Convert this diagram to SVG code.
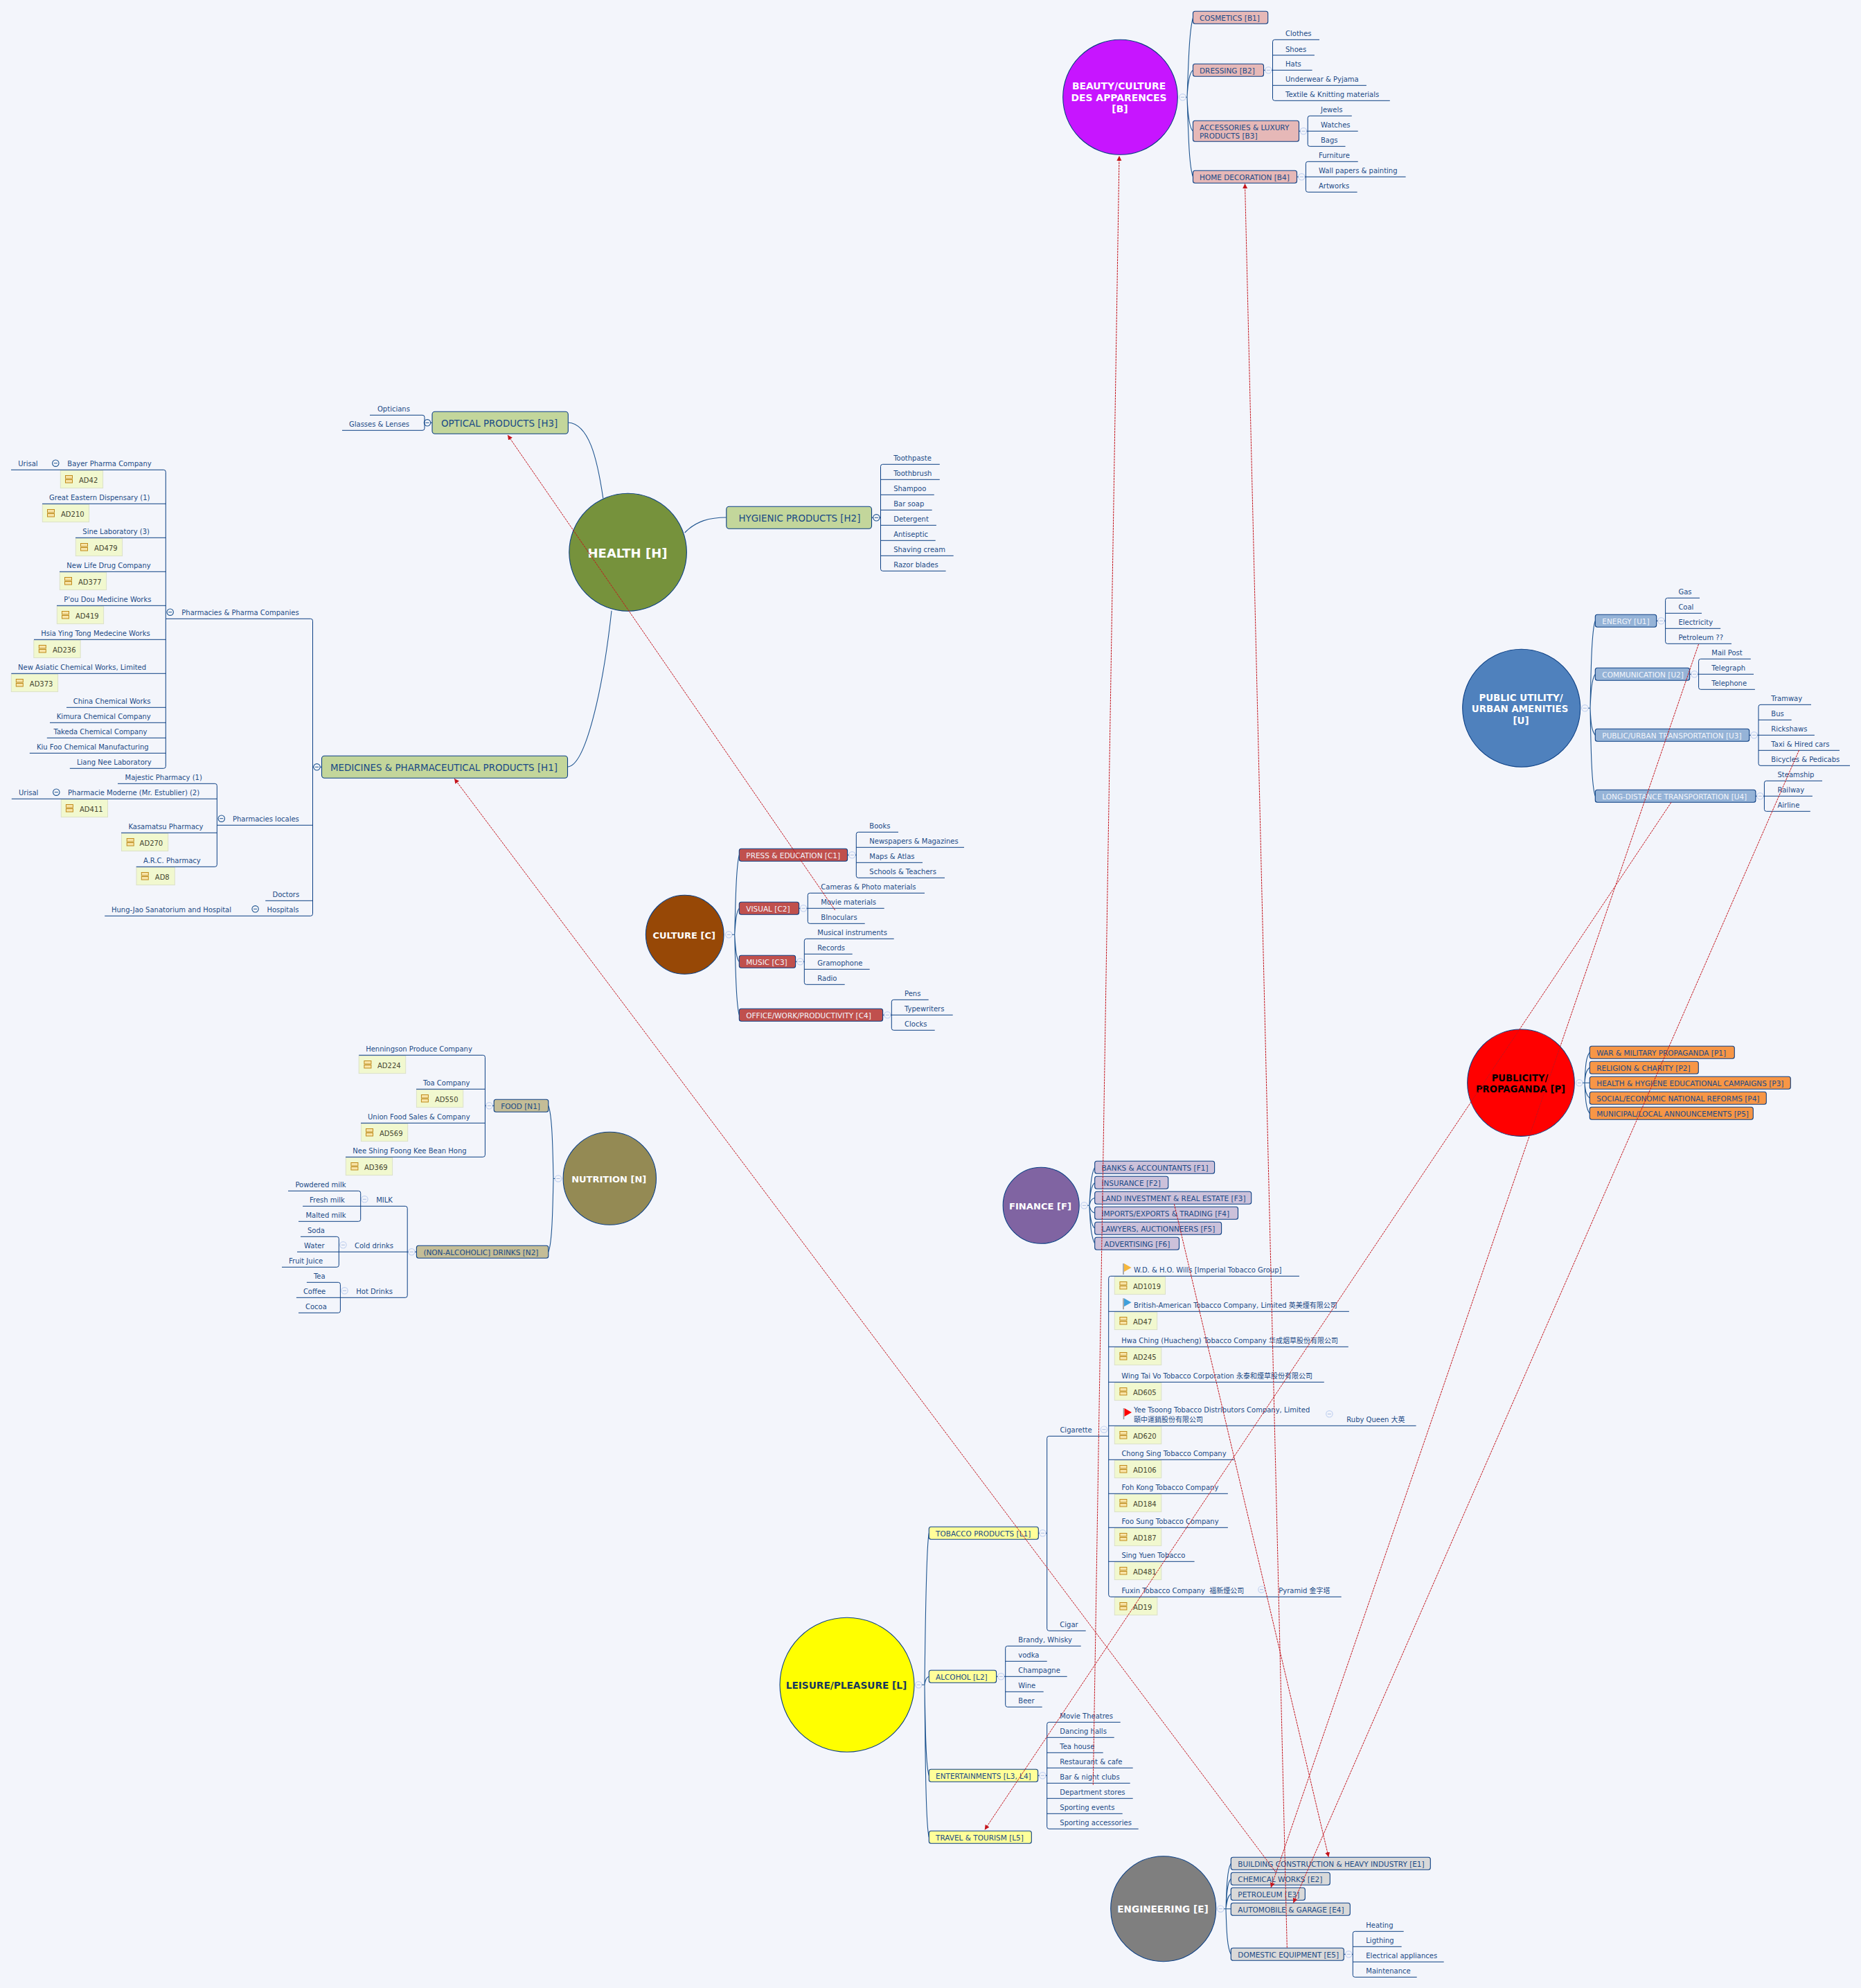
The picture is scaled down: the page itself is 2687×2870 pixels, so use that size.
<svg xmlns="http://www.w3.org/2000/svg" width="2687" height="2870" viewBox="0 0 2687 2870">
<style>
text{font-family:"DejaVu Sans","Noto Sans CJK SC",sans-serif}
.t{font-size:10px;fill:#1a4a86}
.x{font-size:10.5px;fill:#1a4a86}
.w{font-size:10.5px;fill:#f3f5fb}
.h{font-size:13.4px;fill:#1a4a86}
.a{font-size:10px;fill:#45452f}
.c{font-weight:bold;font-size:13.4px;fill:#fff;text-anchor:middle}
.o{stroke:#0b3f84;stroke-width:1.1}
.b{stroke:#0b3f84;stroke-width:1.1}
.n{fill:#f1f8cf;stroke:#dbe0c8;stroke-width:1}
.l{fill:none;stroke:#0b3f84;stroke-width:1}
.s{fill:none;stroke:#1f5590;stroke-width:1.1}
.r{fill:none;stroke:#c4141c;stroke-width:1;stroke-dasharray:3 1;marker-end:url(#ah)}
</style>
<defs>
<marker id="ah" markerUnits="userSpaceOnUse" markerWidth="8" markerHeight="8" refX="7" refY="3.5" orient="auto"><path d="M0 0L7 3.5L0 7z" fill="#c4141c"/></marker>
<g id="m"><circle r="4.7" fill="#f3f5fb" stroke="#c3d2f0" stroke-width="1.2"/><path d="M-2.5 0H2.5" stroke="#a9bce0" stroke-width="1"/></g>
<g id="d"><circle r="4.7" fill="#f3f5fb" stroke="#1f5590" stroke-width="1.1"/><path d="M-2.5 0H2.5" stroke="#1f5590" stroke-width="1"/></g>
<g id="i"><rect x=".5" y=".5" width="10" height="4.5" fill="#f8e4a8" stroke="#c08a1a"/><rect x=".5" y="6.5" width="10" height="4.5" fill="#f8e4a8" stroke="#c08a1a"/></g>
</defs>
<rect width="2687" height="2870" fill="#f3f5fb"/>

<g id="B"><ellipse class="o" cx="1617.5" cy="140.3" rx="82.8" ry="83" fill="#c715ff"/><text class="c" x="1615.5" y="129" style="font-size:13.9px">BEAUTY/CULTURE</text><text class="c" x="1615.5" y="146" style="font-size:13.9px">DES APPARENCES</text><text class="c" x="1617" y="162" style="font-size:13.9px">[B]</text><use href="#m" x="1707.5" y="140.3"/></g>
<g id="B1"><rect class="b" x="1722.5" y="16.3" width="108.2" height="18" rx="3" fill="#e6b8b7"/><text class="x" x="1732" y="30">COSMETICS [B1]</text></g>
<g id="B2"><rect class="b" x="1722.5" y="92.3" width="102" height="18" rx="3" fill="#e6b8b7"/><text class="x" x="1732" y="106">DRESSING [B2]</text><use href="#m" x="1831.4" y="101.3"/></g>
<g id="B3"><rect class="b" x="1722.5" y="174.3" width="153" height="30" rx="3" fill="#e6b8b7"/><text class="x" x="1732" y="188">ACCESSORIES &amp; LUXURY</text><text class="x" x="1732" y="200">PRODUCTS [B3]</text><use href="#m" x="1882" y="189.3"/></g>
<g id="B4"><rect class="b" x="1722.5" y="246.3" width="150" height="18" rx="3" fill="#e6b8b7"/><text class="x" x="1732" y="260">HOME DECORATION [B4]</text><use href="#m" x="1879.3" y="255.3"/></g>
<g id="B2a"><text class="t" x="1856" y="52.3">Clothes</text></g>
<g id="B2b"><text class="t" x="1856" y="74.7">Shoes</text></g>
<g id="B2c"><text class="t" x="1856" y="96.3">Hats</text></g>
<g id="B2d"><text class="t" x="1856" y="118.3">Underwear &amp; Pyjama</text></g>
<g id="B2e"><text class="t" x="1856" y="140.3">Textile &amp; Knitting materials</text></g>
<g id="B3a"><text class="t" x="1907" y="162.3">Jewels</text></g>
<g id="B3b"><text class="t" x="1907" y="184.3">Watches</text></g>
<g id="B3c"><text class="t" x="1907" y="206.3">Bags</text></g>
<g id="B4a"><text class="t" x="1904" y="228.3">Furniture</text></g>
<g id="B4b"><text class="t" x="1904" y="250.3">Wall papers &amp; painting</text></g>
<g id="B4c"><text class="t" x="1904" y="272.3">Artworks</text></g>

<g id="H"><ellipse class="o" cx="906.6" cy="797.3" rx="84.8" ry="85" fill="#76923c"/><text class="c" x="906" y="805" style="font-size:18px">HEALTH [H]</text></g>
<g id="H3"><rect class="b" x="624" y="594.3" width="196.3" height="32" rx="4" fill="#c3d69b"/><text class="h" x="637" y="616">OPTICAL PRODUCTS [H3]</text><use href="#d" x="617" y="610.3"/></g>
<g id="H3a"><text class="t" x="545" y="594.3">Opticians</text></g>
<g id="H3b"><text class="t" x="504" y="616.3">Glasses &amp; Lenses</text></g>
<g id="H2"><rect class="b" x="1048.8" y="731.3" width="209.7" height="32" rx="4" fill="#c3d69b"/><text class="h" x="1066.4" y="753.3">HYGIENIC PRODUCTS [H2]</text><use href="#d" x="1265.4" y="747.3"/></g>
<g id="H2a"><text class="t" x="1290.2" y="665.3">Toothpaste</text></g>
<g id="H2b"><text class="t" x="1290.2" y="687.3">Toothbrush</text></g>
<g id="H2c"><text class="t" x="1290.2" y="709.3">Shampoo</text></g>
<g id="H2d"><text class="t" x="1290.2" y="731.3">Bar soap</text></g>
<g id="H2e"><text class="t" x="1290.2" y="753.3">Detergent</text></g>
<g id="H2f"><text class="t" x="1290.2" y="775.3">Antiseptic</text></g>
<g id="H2g"><text class="t" x="1290.2" y="797.3">Shaving cream</text></g>
<g id="H2h"><text class="t" x="1290.2" y="819.3">Razor blades</text></g>
<g id="H1"><rect class="b" x="464.5" y="1091.3" width="355" height="32" rx="4" fill="#c3d69b"/><text class="h" x="477" y="1113">MEDICINES &amp; PHARMACEUTICAL PRODUCTS [H1]</text><use href="#d" x="457.5" y="1107.3"/></g>

<g id="PC"><text class="t" x="262.3" y="888.3">Pharmacies &amp; Pharma Companies</text><use href="#d" x="245.7" y="883.7"/></g>
<g id="PC1"><text class="t" x="97.3" y="673.3">Bayer Pharma Company</text><use href="#d" x="80.3" y="668.7"/></g>
<g id="PC1u"><text class="t" x="26.3" y="673.3">Urisal</text></g>
<g id="ad42"><rect class="n" x="87.3" y="679.3" width="61.3" height="25.3"/><use href="#i" x="94" y="686"/><text class="a" x="114" y="697">AD42</text></g>
<g id="PC2"><text class="t" x="71" y="722.3">Great Eastern Dispensary (1)</text></g>
<g id="ad210"><rect class="n" x="61.3" y="728.3" width="67.3" height="25.3"/><use href="#i" x="68" y="735"/><text class="a" x="88" y="746">AD210</text></g>
<g id="PC3"><text class="t" x="119.3" y="771.3">Sine Laboratory (3)</text></g>
<g id="ad479"><rect class="n" x="109.3" y="777.3" width="67.3" height="25.3"/><use href="#i" x="116" y="784"/><text class="a" x="136" y="795">AD479</text></g>
<g id="PC4"><text class="t" x="96.3" y="820.3">New Life Drug Company</text></g>
<g id="ad377"><rect class="n" x="86.3" y="826.3" width="67.3" height="25.3"/><use href="#i" x="93" y="833"/><text class="a" x="113" y="844">AD377</text></g>
<g id="PC5"><text class="t" x="92.3" y="869.3">P'ou Dou Medicine Works</text></g>
<g id="ad419"><rect class="n" x="82.3" y="875.3" width="67.3" height="25.3"/><use href="#i" x="89" y="882"/><text class="a" x="109" y="893">AD419</text></g>
<g id="PC6"><text class="t" x="59.3" y="918.3">Hsia Ying Tong Medecine Works</text></g>
<g id="ad236"><rect class="n" x="48.8" y="924.3" width="67.3" height="25.3"/><use href="#i" x="55.8" y="931"/><text class="a" x="75.9" y="942">AD236</text></g>
<g id="PC7"><text class="t" x="26" y="967.3">New Asiatic Chemical Works, Limited</text></g>
<g id="ad373"><rect class="n" x="16.3" y="973.3" width="67.3" height="25.3"/><use href="#i" x="22.8" y="980"/><text class="a" x="42.8" y="991">AD373</text></g>
<g id="PC8"><text class="t" x="105.7" y="1016.3">China Chemical Works</text></g>
<g id="PC9"><text class="t" x="81.8" y="1038.3">Kimura Chemical Company</text></g>
<g id="PC10"><text class="t" x="77.5" y="1060.3">Takeda Chemical Company</text></g>
<g id="PC11"><text class="t" x="53" y="1082.3">Kiu Foo Chemical Manufacturing</text></g>
<g id="PC12"><text class="t" x="111" y="1104.3">Liang Nee Laboratory</text></g>
<g id="PL"><text class="t" x="336" y="1186.3">Pharmacies locales</text><use href="#d" x="319.8" y="1181.7"/></g>
<g id="PL1"><text class="t" x="180.5" y="1126.3">Majestic Pharmacy (1)</text></g>
<g id="PL2"><text class="t" x="98.1" y="1148.3">Pharmacie Moderne (Mr. Estublier) (2)</text><use href="#d" x="81.3" y="1143.7"/></g>
<g id="PL2u"><text class="t" x="27" y="1148.3">Urisal</text></g>
<g id="ad411"><rect class="n" x="88.3" y="1154.3" width="67.2" height="25.3"/><use href="#i" x="94.9" y="1161"/><text class="a" x="115" y="1172">AD411</text></g>
<g id="PL3"><text class="t" x="185.4" y="1197.3">Kasamatsu Pharmacy</text></g>
<g id="ad270"><rect class="n" x="175.5" y="1203.3" width="67.2" height="25.3"/><use href="#i" x="182.7" y="1210"/><text class="a" x="201.6" y="1221">AD270</text></g>
<g id="PL4"><text class="t" x="207" y="1246.3">A.R.C. Pharmacy</text></g>
<g id="ad8"><rect class="n" x="197" y="1252.3" width="55.3" height="25.3"/><use href="#i" x="203.8" y="1259"/><text class="a" x="223.8" y="1270">AD8</text></g>
<g id="DOC"><text class="t" x="393.5" y="1295.3">Doctors</text></g>
<g id="HOS"><text class="t" x="385.4" y="1317.3">Hospitals</text><use href="#d" x="368.6" y="1312.3"/></g>
<g id="HOSa"><text class="t" x="161" y="1317.3">Hung-Jao Sanatorium and Hospital</text></g>

<g id="C"><ellipse class="o" cx="988.7" cy="1349.3" rx="56.3" ry="57" fill="#974806"/><text class="c" x="987.7" y="1355" style="font-size:13px">CULTURE [C]</text><use href="#m" x="1052.3" y="1349.3"/></g>
<g id="C1"><rect class="b" x="1067.3" y="1225.3" width="156.3" height="18" rx="3" fill="#c0504d"/><text class="w" x="1077.3" y="1239">PRESS &amp; EDUCATION [C1]</text><use href="#m" x="1230.3" y="1234.3"/></g>
<g id="C2"><rect class="b" x="1067.3" y="1302.3" width="86.3" height="18" rx="3" fill="#c0504d"/><text class="w" x="1077.3" y="1316">VISUAL [C2]</text><use href="#m" x="1160" y="1311.3"/></g>
<g id="C3"><rect class="b" x="1067.3" y="1379.3" width="81.3" height="18" rx="3" fill="#c0504d"/><text class="w" x="1077.3" y="1393">MUSIC [C3]</text><use href="#m" x="1155.3" y="1388.3"/></g>
<g id="C4"><rect class="b" x="1067.3" y="1456.3" width="207.3" height="18" rx="3" fill="#c0504d"/><text class="w" x="1077.3" y="1470">OFFICE/WORK/PRODUCTIVITY [C4]</text><use href="#m" x="1281.3" y="1465.3"/></g>
<g id="C1a"><text class="t" x="1255.3" y="1196.3">Books</text></g>
<g id="C1b"><text class="t" x="1255.3" y="1218.3">Newspapers &amp; Magazines</text></g>
<g id="C1c"><text class="t" x="1255.3" y="1240.3">Maps &amp; Atlas</text></g>
<g id="C1d"><text class="t" x="1255.3" y="1262.3">Schools &amp; Teachers</text></g>
<g id="C2a"><text class="t" x="1185.3" y="1284.3">Cameras &amp; Photo materials</text></g>
<g id="C2b"><text class="t" x="1185.3" y="1306.3">Movie materials</text></g>
<g id="C2c"><text class="t" x="1185.3" y="1328.3">BInoculars</text></g>
<g id="C3a"><text class="t" x="1180.3" y="1350.3">Musical instruments</text></g>
<g id="C3b"><text class="t" x="1180.3" y="1372.3">Records</text></g>
<g id="C3c"><text class="t" x="1180.3" y="1394.3">Gramophone</text></g>
<g id="C3d"><text class="t" x="1180.3" y="1416.3">Radio</text></g>
<g id="C4a"><text class="t" x="1306" y="1438.3">Pens</text></g>
<g id="C4b"><text class="t" x="1306" y="1460.3">Typewriters</text></g>
<g id="C4c"><text class="t" x="1306" y="1482.3">Clocks</text></g>

<g id="N"><ellipse class="o" cx="880.3" cy="1701.3" rx="67.2" ry="67" fill="#948a54"/><text class="c" x="879.2" y="1707" style="font-size:13px">NUTRITION [N]</text><use href="#m" x="806" y="1701.5"/></g>
<g id="N1"><rect class="b" x="713.2" y="1587.3" width="78.6" height="18" rx="3" fill="#c4bd97"/><text class="x" x="723.2" y="1601">FOOD [N1]</text><use href="#m" x="706.4" y="1596.3"/></g>
<g id="N2"><rect class="b" x="601.4" y="1798.3" width="190.4" height="18" rx="3" fill="#c4bd97"/><text class="x" x="611.4" y="1812">(NON-ALCOHOLIC] DRINKS [N2]</text><use href="#m" x="594.3" y="1807.3"/></g>
<g id="N1a"><text class="t" x="528.2" y="1518.3">Henningson Produce Company</text></g>
<g id="ad224"><rect class="n" x="518.2" y="1524.3" width="67.5" height="25.3"/><use href="#i" x="525.4" y="1531"/><text class="a" x="545" y="1542">AD224</text></g>
<g id="N1b"><text class="t" x="611" y="1567.3">Toa Company</text></g>
<g id="ad550"><rect class="n" x="601.4" y="1573.3" width="67.3" height="25.3"/><use href="#i" x="607.9" y="1580"/><text class="a" x="627.9" y="1591">AD550</text></g>
<g id="N1c"><text class="t" x="531" y="1616.3">Union Food Sales &amp; Company</text></g>
<g id="ad569"><rect class="n" x="521.4" y="1622.3" width="67.3" height="25.3"/><use href="#i" x="528" y="1629"/><text class="a" x="547.9" y="1640">AD569</text></g>
<g id="N1d"><text class="t" x="509.3" y="1665.3">Nee Shing Foong Kee Bean Hong</text></g>
<g id="ad369"><rect class="n" x="499.3" y="1671.3" width="67.3" height="25.3"/><use href="#i" x="506.4" y="1678"/><text class="a" x="526" y="1689">AD369</text></g>
<g id="N2a"><text class="t" x="543.2" y="1736.3">MILK</text><use href="#m" x="526.4" y="1731.3"/></g>
<g id="N2a1"><text class="t" x="426.4" y="1714.3">Powdered milk</text></g>
<g id="N2a2"><text class="t" x="447" y="1736.3">Fresh milk</text></g>
<g id="N2a3"><text class="t" x="441.4" y="1758.3">Malted milk</text></g>
<g id="N2b"><text class="t" x="512" y="1802.3">Cold drinks</text><use href="#m" x="495.4" y="1797.3"/></g>
<g id="N2b1"><text class="t" x="444" y="1780.3">Soda</text></g>
<g id="N2b2"><text class="t" x="439" y="1802.3">Water</text></g>
<g id="N2b3"><text class="t" x="417" y="1824.3">Fruit Juice</text></g>
<g id="N2c"><text class="t" x="514.3" y="1868.3">Hot Drinks</text><use href="#m" x="497.5" y="1863.3"/></g>
<g id="N2c1"><text class="t" x="452.9" y="1846.3">Tea</text></g>
<g id="N2c2"><text class="t" x="437.9" y="1868.3">Coffee</text></g>
<g id="N2c3"><text class="t" x="441" y="1890.3">Cocoa</text></g>

<g id="U"><ellipse class="o" cx="2196.7" cy="1022.3" rx="85" ry="85" fill="#4f81bd"/><text class="c" x="2196" y="1012">PUBLIC UTILITY/</text><text class="c" x="2194.6" y="1028.3">URBAN AMENITIES</text><text class="c" x="2196" y="1044.7">[U]</text><use href="#m" x="2288.4" y="1022.3"/></g>
<g id="U1"><rect class="b" x="2303.3" y="887.3" width="88.4" height="18" rx="3" fill="#95b3d7"/><text class="w" x="2313.3" y="901">ENERGY [U1]</text><use href="#m" x="2398.5" y="896.3"/></g>
<g id="U2"><rect class="b" x="2303.3" y="964.3" width="136.3" height="18" rx="3" fill="#95b3d7"/><text class="w" x="2313.3" y="978">COMMUNICATION [U2]</text><use href="#m" x="2446.5" y="973.3"/></g>
<g id="U3"><rect class="b" x="2303.3" y="1052.3" width="222.4" height="18" rx="3" fill="#95b3d7"/><text class="w" x="2313.3" y="1066">PUBLIC/URBAN TRANSPORTATION [U3]</text><use href="#m" x="2532.6" y="1061.3"/></g>
<g id="U4"><rect class="b" x="2303.3" y="1140.3" width="231.6" height="18" rx="3" fill="#95b3d7"/><text class="w" x="2313.3" y="1154">LONG-DISTANCE TRANSPORTATION [U4]</text><use href="#m" x="2541.3" y="1149.3"/></g>
<g id="U1a"><text class="t" x="2423.4" y="858.3">Gas</text></g>
<g id="U1b"><text class="t" x="2423.4" y="880.3">Coal</text></g>
<g id="U1c"><text class="t" x="2423.4" y="902.3">Electricity</text></g>
<g id="U1d"><text class="t" x="2423.4" y="924.3">Petroleum ??</text></g>
<g id="U2a"><text class="t" x="2471.3" y="946.3">Mail Post</text></g>
<g id="U2b"><text class="t" x="2471.3" y="968.3">Telegraph</text></g>
<g id="U2c"><text class="t" x="2471.3" y="990.3">Telephone</text></g>
<g id="U3a"><text class="t" x="2557.3" y="1012.3">Tramway</text></g>
<g id="U3b"><text class="t" x="2557.3" y="1034.3">Bus</text></g>
<g id="U3c"><text class="t" x="2557.3" y="1056.3">Rickshaws</text></g>
<g id="U3d"><text class="t" x="2557.3" y="1078.3">Taxi &amp; Hired cars</text></g>
<g id="U3e"><text class="t" x="2557.3" y="1100.3">Bicycles &amp; Pedicabs</text></g>
<g id="U4a"><text class="t" x="2566.5" y="1122.3">Steamship</text></g>
<g id="U4b"><text class="t" x="2566.5" y="1144.3">Railway</text></g>
<g id="U4c"><text class="t" x="2566.5" y="1166.3">Airline</text></g>

<g id="P"><ellipse class="o" cx="2196" cy="1563.2" rx="77.3" ry="77.2" fill="#ff0000"/><text class="c" x="2194.5" y="1561" style="fill:#000;font-size:13.2px">PUBLICITY/</text><text class="c" x="2195.5" y="1577" style="fill:#000;font-size:13.2px">PROPAGANDA [P]</text><use href="#m" x="2280.3" y="1563.3"/></g>
<g id="P1"><rect class="b" x="2295.3" y="1510.3" width="209" height="18" rx="3" fill="#f79646"/><text class="x" x="2305.3" y="1524">WAR &amp; MILITARY PROPAGANDA [P1]</text></g>
<g id="P2"><rect class="b" x="2295.3" y="1532.3" width="157" height="18" rx="3" fill="#f79646"/><text class="x" x="2305.3" y="1546">RELIGION &amp; CHARITY [P2]</text></g>
<g id="P3"><rect class="b" x="2295.3" y="1554.3" width="290" height="18" rx="3" fill="#f79646"/><text class="x" x="2305.3" y="1568">HEALTH &amp; HYGIENE EDUCATIONAL CAMPAIGNS [P3]</text></g>
<g id="P4"><rect class="b" x="2295.3" y="1576.3" width="255" height="18" rx="3" fill="#f79646"/><text class="x" x="2305.3" y="1590">SOCIAL/ECONOMIC NATIONAL REFORMS [P4]</text></g>
<g id="P5"><rect class="b" x="2295.3" y="1598.3" width="236" height="18" rx="3" fill="#f79646"/><text class="x" x="2305.3" y="1612">MUNICIPAL/LOCAL ANNOUNCEMENTS [P5]</text></g>

<g id="F"><ellipse class="o" cx="1503.2" cy="1740.3" rx="55" ry="55" fill="#8064a2"/><text class="c" x="1502" y="1746.3" style="font-size:13.1px">FINANCE [F]</text><use href="#m" x="1565.4" y="1740.3"/></g>
<g id="F1"><rect class="b" x="1580.7" y="1676.3" width="172.9" height="18" rx="3" fill="#ccc1da"/><text class="x" x="1590.4" y="1690">BANKS &amp; ACCOUNTANTS [F1]</text></g>
<g id="F2"><rect class="b" x="1580.7" y="1698.3" width="106" height="18" rx="3" fill="#ccc1da"/><text class="x" x="1590.4" y="1712">INSURANCE [F2]</text></g>
<g id="F3"><rect class="b" x="1580.7" y="1720.3" width="226" height="18" rx="3" fill="#ccc1da"/><text class="x" x="1590.4" y="1734">LAND INVESTMENT &amp; REAL ESTATE [F3]</text></g>
<g id="F4"><rect class="b" x="1580.7" y="1742.3" width="206.8" height="18" rx="3" fill="#ccc1da"/><text class="x" x="1590.4" y="1756">IMPORTS/EXPORTS &amp; TRADING [F4]</text></g>
<g id="F5"><rect class="b" x="1580.7" y="1764.3" width="182.9" height="18" rx="3" fill="#ccc1da"/><text class="x" x="1590.4" y="1778">LAWYERS, AUCTIONNEERS [F5]</text></g>
<g id="F6"><rect class="b" x="1580.7" y="1786.3" width="121.8" height="18" rx="3" fill="#ccc1da"/><text class="x" x="1594.3" y="1800">ADVERTISING [F6]</text></g>

<g id="L"><ellipse class="o" cx="1223" cy="2432.3" rx="97" ry="97" fill="#ffff00"/><text class="c" x="1222" y="2438" style="fill:#17375e;font-size:13.7px">LEISURE/PLEASURE [L]</text><use href="#m" x="1326.3" y="2432.3"/></g>
<g id="L1"><rect class="b" x="1341.3" y="2204.3" width="158" height="18" rx="3" fill="#ffff99"/><text class="x" x="1351" y="2218">TOBACCO PRODUCTS [L1]</text><use href="#m" x="1505.4" y="2213.3"/></g>
<g id="L2"><rect class="b" x="1341.3" y="2411.3" width="97.3" height="18" rx="3" fill="#ffff99"/><text class="x" x="1351" y="2425">ALCOHOL [L2]</text><use href="#m" x="1445.3" y="2420.3"/></g>
<g id="L3"><rect class="b" x="1341.3" y="2554.3" width="157.3" height="18" rx="3" fill="#ffff99"/><text class="x" x="1351" y="2568">ENTERTAINMENTS [L3, L4]</text><use href="#m" x="1505.3" y="2563.3"/></g>
<g id="L5"><rect class="b" x="1341.3" y="2643.3" width="148" height="18" rx="3" fill="#ffff99"/><text class="x" x="1351" y="2657">TRAVEL &amp; TOURISM [L5]</text></g>
<g id="CIG"><text class="t" x="1530.4" y="2068.3">Cigarette</text><use href="#m" x="1594" y="2063.7"/></g>
<g id="CIGAR"><text class="t" x="1530.3" y="2349.3">Cigar</text></g>
<g id="T1"><path d="M1622 1824V1840" stroke="#9a9a9a" stroke-width="1.6"/><path d="M1623 1824L1633.5 1830L1623 1836z" fill="#f6b73c"/><text class="t" x="1637" y="1837.3">W.D. &amp; H.O. Wills [Imperial Tobacco Group]</text></g>
<g id="ad1019"><rect class="n" x="1609.3" y="1843.3" width="73.2" height="25.3"/><use href="#i" x="1616.4" y="1850"/><text class="a" x="1636" y="1861">AD1019</text></g>
<g id="T2"><path d="M1622 1874.3V1890.3" stroke="#9a9a9a" stroke-width="1.6"/><path d="M1623 1874.3L1633.5 1880.3L1623 1886.3z" fill="#3fa0dc"/><text class="t" x="1637" y="1888.3">British-American Tobacco Company, Limited 英美煙有限公司</text></g>
<g id="ad47"><rect class="n" x="1609.3" y="1894.3" width="61.4" height="25.3"/><use href="#i" x="1616.4" y="1901"/><text class="a" x="1636" y="1912">AD47</text></g>
<g id="T3"><text class="t" x="1619.3" y="1939.3">Hwa Ching (Huacheng) Tobacco Company 华成烟草股份有限公司</text></g>
<g id="ad245"><rect class="n" x="1609.3" y="1945.3" width="67.5" height="25.3"/><use href="#i" x="1616.4" y="1952"/><text class="a" x="1636" y="1963">AD245</text></g>
<g id="T4"><text class="t" x="1619.3" y="1990.3">Wing Tai Vo Tobacco Corporation 永泰和煙草股份有限公司</text></g>
<g id="ad605"><rect class="n" x="1609.3" y="1996.3" width="67.5" height="25.3"/><use href="#i" x="1616.4" y="2003"/><text class="a" x="1636" y="2014">AD605</text></g>
<g id="T5"><path d="M1622.5 2033V2049" stroke="#9a9a9a" stroke-width="1.6"/><path d="M1623.5 2033L1634 2039L1623.5 2045z" fill="#ff0000"/><text class="t" x="1637" y="2039.3">Yee Tsoong Tobacco Distributors Company, Limited</text><text class="t" x="1637" y="2053.3">頤中運銷股份有限公司</text><use href="#m" x="1919.4" y="2041.3"/></g>
<g id="T5a"><text class="t" x="1944.3" y="2053.3">Ruby Queen 大英</text></g>
<g id="ad620"><rect class="n" x="1609.3" y="2059.3" width="67.5" height="25.3"/><use href="#i" x="1616.4" y="2066"/><text class="a" x="1636" y="2077">AD620</text></g>
<g id="T6"><text class="t" x="1619.4" y="2102.3">Chong Sing Tobacco Company</text></g>
<g id="ad106"><rect class="n" x="1609.3" y="2108.3" width="67.5" height="25.3"/><use href="#i" x="1616.4" y="2115"/><text class="a" x="1636" y="2126">AD106</text></g>
<g id="T7"><text class="t" x="1619.4" y="2151.3">Foh Kong Tobacco Company</text></g>
<g id="ad184"><rect class="n" x="1609.3" y="2157.3" width="67.5" height="25.3"/><use href="#i" x="1616.4" y="2164"/><text class="a" x="1636" y="2175">AD184</text></g>
<g id="T8"><text class="t" x="1619.4" y="2200.3">Foo Sung Tobacco Company</text></g>
<g id="ad187"><rect class="n" x="1609.3" y="2206.3" width="67.5" height="25.3"/><use href="#i" x="1616.4" y="2213"/><text class="a" x="1636" y="2224">AD187</text></g>
<g id="T9"><text class="t" x="1619.4" y="2249.3">Sing Yuen Tobacco</text></g>
<g id="ad481"><rect class="n" x="1609.3" y="2255.3" width="67.5" height="25.3"/><use href="#i" x="1616.4" y="2262"/><text class="a" x="1636" y="2273">AD481</text></g>
<g id="T10"><text class="t" x="1619.4" y="2300.3">Fuxin Tobacco Company&#160;&#160;福新煙公司</text><use href="#m" x="1821.5" y="2294.7"/></g>
<g id="T10a"><text class="t" x="1846.3" y="2300.3">Pyramid 金字塔</text></g>
<g id="ad19"><rect class="n" x="1609.3" y="2306.3" width="61.6" height="25.3"/><use href="#i" x="1616.4" y="2313"/><text class="a" x="1636" y="2324">AD19</text></g>
<g id="L2a"><text class="t" x="1470.3" y="2371.3">Brandy, Whisky</text></g>
<g id="L2b"><text class="t" x="1470.3" y="2393.3">vodka</text></g>
<g id="L2c"><text class="t" x="1470.3" y="2415.3">Champagne</text></g>
<g id="L2d"><text class="t" x="1470.3" y="2437.3">Wine</text></g>
<g id="L2e"><text class="t" x="1470.3" y="2459.3">Beer</text></g>
<g id="L3a"><text class="t" x="1530.3" y="2481.3">Movie Theatres</text></g>
<g id="L3b"><text class="t" x="1530.3" y="2503.3">Dancing halls</text></g>
<g id="L3c"><text class="t" x="1530.3" y="2525.3">Tea house</text></g>
<g id="L3d"><text class="t" x="1530.3" y="2547.3">Restaurant &amp; cafe</text></g>
<g id="L3e"><text class="t" x="1530.3" y="2569.3">Bar &amp; night clubs</text></g>
<g id="L3f"><text class="t" x="1530.3" y="2591.3">Department stores</text></g>
<g id="L3g"><text class="t" x="1530.3" y="2613.3">Sporting events</text></g>
<g id="L3h"><text class="t" x="1530.3" y="2635.3">Sporting accessories</text></g>

<g id="E"><ellipse class="o" cx="1679.7" cy="2755.7" rx="76" ry="76" fill="#7f7f7f"/><text class="c" x="1679" y="2761" style="font-size:13.6px">ENGINEERING [E]</text><use href="#m" x="1762.3" y="2755.7"/></g>
<g id="E1"><rect class="b" x="1777.3" y="2681.3" width="288" height="18" rx="3" fill="#d9d9d9"/><text class="x" x="1787.3" y="2695">BUILDING CONSTRUCTION &amp; HEAVY INDUSTRY [E1]</text></g>
<g id="E2"><rect class="b" x="1777.3" y="2703.3" width="143" height="18" rx="3" fill="#d9d9d9"/><text class="x" x="1787.3" y="2717">CHEMICAL WORKS [E2]</text></g>
<g id="E3"><rect class="b" x="1777.3" y="2725.3" width="107" height="18" rx="3" fill="#d9d9d9"/><text class="x" x="1787.3" y="2739">PETROLEUM [E3]</text></g>
<g id="E4"><rect class="b" x="1777.3" y="2747.3" width="172" height="18" rx="3" fill="#d9d9d9"/><text class="x" x="1787.3" y="2761">AUTOMOBILE &amp; GARAGE [E4]</text></g>
<g id="E5"><rect class="b" x="1777.3" y="2812.3" width="163" height="18" rx="3" fill="#d9d9d9"/><text class="x" x="1787.3" y="2826">DOMESTIC EQUIPMENT [E5]</text><use href="#m" x="1947.3" y="2821.3"/></g>
<g id="E5a"><text class="t" x="1972.3" y="2783.3">Heating</text></g>
<g id="E5b"><text class="t" x="1972.3" y="2805.3">Ligthing</text></g>
<g id="E5c"><text class="t" x="1972.3" y="2827.3">Electrical appliances</text></g>
<g id="E5d"><text class="t" x="1972.3" y="2849.3">Maintenance</text></g>

<g id="connectors">
<path class="s" d="M1712.2 140.3H1714C1716 90 1717 45 1722.5 25.3M1714 140.3C1715 120 1717 105 1722.5 101.3M1714 140.3C1715 165 1717 185 1722.5 189.3M1714 140.3C1716 200 1717 240 1722.5 255.3"/>
<path class="l" d="M1824.5 101.3H1826.7M1836 101.3H1837.5M1875.5 189.3H1877.3M1886.7 189.3H1888.2M1872.5 255.3H1874.6M1884 255.3H1885.4"/>
<path class="l" d="M1905 57.3H1840.5Q1837.5 57.3 1837.5 60.3V142.3Q1837.5 145.3 1840.5 145.3H2006.8M1837.5 79.7H1897.9M1837.5 101.3H1894.6M1837.5 123.3H1972.9"/>
<path class="l" d="M1951.8 167.3H1891.2Q1888.2 167.3 1888.2 170.3V208.3Q1888.2 211.3 1891.2 211.3H1942.5M1888.2 189.3H1960.7"/>
<path class="l" d="M1960.7 233.3H1888.4Q1885.4 233.3 1885.4 236.3V274.3Q1885.4 277.3 1888.4 277.3H1959.6M1885.4 255.3H2029.6"/>

<path class="s" d="M820.3 610C850 612 862 660 870.8 719.3M988.7 769C1005 752 1025 747 1048.8 747M820 1107C845 1105 870 1000 883 881.7"/>
<path class="l" d="M534 599.3H610Q613 599.3 613 602.3V618.3Q613 621.3 610 621.3H494M613 610.3H612.3M621.7 610.3H624"/>
<path class="l" d="M1258.5 747.3H1260.7M1270 747.3H1271.5M1356.8 670.3H1274.5Q1271.5 670.3 1271.5 673.3V821.3Q1271.5 824.3 1274.5 824.3H1365.6M1271.5 692.3H1356.8M1271.5 714.3H1348.8M1271.5 736.3H1345.7M1271.5 758.3H1351.9M1271.5 780.3H1350.7M1271.5 802.3H1376.7"/>
<path class="l" d="M16 678.3H236.3Q239.3 678.3 239.3 681.3V1106.3Q239.3 1109.3 236.3 1109.3H100.8M61 727.3H239.3M109 776.3H239.3M86 825.3H239.3M82 874.3H239.3M49 923.3H239.3M16.3 972.3H239.3M96 1021.3H239.3M72 1043.3H239.3M67.8 1065.3H239.3M42.8 1087.3H239.3"/>
<path class="l" d="M239.3 893.3H448.5Q451.5 893.3 451.5 896.3V1319.3Q451.5 1322.3 448.5 1322.3H151.2M452 1107.3H452.8M462.2 1107.3H464.5M313.3 1191.3H451.5M383.2 1300.3H451.5"/>
<path class="l" d="M170 1131.3H310.3Q313.3 1131.3 313.3 1134.3V1248.3Q313.3 1251.3 310.3 1251.3H196.7M16.8 1153.3H313.3M175 1202.3H313.3"/>

<path class="s" d="M1057 1349.3H1060.7C1062 1300 1063 1250 1067.3 1234.3M1060.7 1349.3C1062 1330 1063 1316 1067.3 1311.3M1060.7 1349.3C1062 1370 1063 1384 1067.3 1388.3M1060.7 1349.3C1062 1400 1063 1450 1067.3 1465.3"/>
<path class="l" d="M1223.6 1234.3H1225.6M1235 1234.3H1236.3M1153.6 1311.3H1155.3M1164.7 1311.3H1166.3M1148.6 1388.3H1150.6M1160 1388.3H1161.3M1274.6 1465.3H1276.6M1286 1465.3H1287.3"/>
<path class="l" d="M1297 1201.3H1239.3Q1236.3 1201.3 1236.3 1204.3V1264.3Q1236.3 1267.3 1239.3 1267.3H1364M1236.3 1223.3H1392M1236.3 1245.3H1332"/>
<path class="l" d="M1335 1289.3H1169.3Q1166.3 1289.3 1166.3 1292.3V1330.3Q1166.3 1333.3 1169.3 1333.3H1248.7M1166.3 1311.3H1276.7"/>
<path class="l" d="M1290.7 1355.3H1164.3Q1161.3 1355.3 1161.3 1358.3V1418.3Q1161.3 1421.3 1164.3 1421.3H1219.7M1161.3 1377.3H1230.7M1161.3 1399.3H1255.7"/>
<path class="l" d="M1340.7 1443.3H1290.3Q1287.3 1443.3 1287.3 1446.3V1484.3Q1287.3 1487.3 1290.3 1487.3H1349.7M1287.3 1465.3H1375.7"/>

<path class="s" d="M801.3 1701.5H799C798 1650 797 1610 791.8 1596.3M799 1701.5C798 1750 797 1795 791.8 1807.3"/>
<path class="l" d="M711 1596.3H713.2M700.4 1596.3H701.7M599 1807.3H601.4M588.2 1807.3H589.6"/>
<path class="l" d="M518.2 1523.3H697.4Q700.4 1523.3 700.4 1526.3V1667.3Q700.4 1670.3 697.4 1670.3H499M601 1572.3H700.4M521 1621.3H700.4"/>
<path class="l" d="M520.7 1741.3H585.2Q588.2 1741.3 588.2 1744.3V1870.3Q588.2 1873.3 585.2 1873.3H491.4M489.3 1807.3H588.2"/>
<path class="l" d="M416 1719.3H517.7Q520.7 1719.3 520.7 1722.3V1760.3Q520.7 1763.3 517.7 1763.3H431M437.1 1741.3H520.7"/>
<path class="l" d="M434 1785.3H486.3Q489.3 1785.3 489.3 1788.3V1826.3Q489.3 1829.3 486.3 1829.3H407M429 1807.3H489.3"/>
<path class="l" d="M442.9 1851.3H488.4Q491.4 1851.3 491.4 1854.3V1892.3Q491.4 1895.3 488.4 1895.3H431M427.9 1873.3H491.4"/>

<path class="s" d="M2293.1 1022.3H2296C2297 970 2298 910 2303.3 896.3M2296 1022.3C2297 1000 2298 980 2303.3 973.3M2296 1022.3C2297 1045 2298 1055 2303.3 1061.3M2296 1022.3C2297 1080 2298 1135 2303.3 1149.3"/>
<path class="l" d="M2391.7 896.3H2393.8M2403.2 896.3H2404.6M2439.6 973.3H2441.8M2451.2 973.3H2452.6M2525.7 1061.3H2527.9M2537.3 1061.3H2539M2534.9 1149.3H2536.6M2546 1149.3H2547.4"/>
<path class="l" d="M2454 863.3H2407.6Q2404.6 863.3 2404.6 866.3V926.3Q2404.6 929.3 2407.6 929.3H2500M2404.6 885.3H2457M2404.6 907.3H2484.2"/>
<path class="l" d="M2527.8 951.3H2455.6Q2452.6 951.3 2452.6 954.3V992.3Q2452.6 995.3 2455.6 995.3H2533.9M2452.6 973.3H2532"/>
<path class="l" d="M2615 1017.3H2542Q2539 1017.3 2539 1020.3V1102.3Q2539 1105.3 2542 1105.3H2671M2539 1039.3H2586.7M2539 1061.3H2619.9M2539 1083.3H2656"/>
<path class="l" d="M2631 1127.3H2550.4Q2547.4 1127.3 2547.4 1130.3V1168.3Q2547.4 1171.3 2550.4 1171.3H2613.8M2547.4 1149.3H2616.9"/>

<path class="s" d="M2285 1563.3H2288C2289 1540 2290 1525 2295.3 1519.3M2288 1563.3C2289 1552 2290 1545 2295.3 1541.3M2288 1563.3H2295.3M2288 1563.3C2289 1575 2290 1581 2295.3 1585.3M2288 1563.3C2289 1587 2290 1601 2295.3 1607.3"/>

<path class="s" d="M1570.1 1740.3H1572.9C1574 1720 1575 1695 1580.7 1685.3M1572.9 1740.3C1574 1725 1575 1712 1580.7 1707.3M1572.9 1740.3C1574 1735 1575 1731 1580.7 1729.3M1572.9 1740.3C1574 1745 1575 1749 1580.7 1751.3M1572.9 1740.3C1574 1755 1575 1768 1580.7 1773.3M1572.9 1740.3C1574 1765 1575 1785 1580.7 1795.3"/>

<path class="s" d="M1331 2432.3H1335C1336 2350 1337 2235 1341.3 2213.3M1335 2432.3C1336 2426 1337 2422 1341.3 2420.3M1335 2432.3C1336 2500 1337 2550 1341.3 2563.3M1335 2432.3C1336 2550 1337 2635 1341.3 2652.3"/>
<path class="l" d="M1499.3 2213.3H1500.7M1510.1 2213.3H1511.7M1438.6 2420.3H1440.6M1450 2420.3H1451.7M1498.6 2563.3H1500.6M1510 2563.3H1511.7"/>
<path class="l" d="M1600.7 2073.3H1514.7Q1511.7 2073.3 1511.7 2076.3V2351.3Q1511.7 2354.3 1514.7 2354.3H1567.7"/>
<path class="l" d="M1876 1842.3H1603.7Q1600.7 1842.3 1600.7 1845.3V2302.3Q1600.7 2305.3 1603.7 2305.3H1936.7M1600.7 1893.3H1947.9M1600.7 1944.3H1946.8M1600.7 1995.3H1911.8M1600.7 2058.3H2044.6M1600.7 2107.3H1782.4M1600.7 2156.3H1772.9M1600.7 2205.3H1772.9M1600.7 2254.3H1724.6"/>
<path class="l" d="M1560.7 2376.3H1454.7Q1451.7 2376.3 1451.7 2379.3V2461.3Q1451.7 2464.3 1454.7 2464.3H1504.7M1451.7 2398.3H1511.7M1451.7 2420.3H1540.7M1451.7 2442.3H1506.7"/>
<path class="l" d="M1617.7 2486.3H1514.7Q1511.7 2486.3 1511.7 2489.3V2637.3Q1511.7 2640.3 1514.7 2640.3H1643.7M1511.7 2508.3H1608.7M1511.7 2530.3H1592.7M1511.7 2552.3H1635.7M1511.7 2574.3H1631.7M1511.7 2596.3H1635.7M1511.7 2618.3H1620.7"/>

<path class="s" d="M1767 2755.7H1770C1771 2725 1772 2698 1777.3 2690.3M1770 2755.7C1771 2735 1772 2718 1777.3 2712.3M1770 2755.7C1771 2748 1772 2737 1777.3 2734.3M1770 2755.7H1777.3M1770 2755.7C1771 2790 1772 2812 1777.3 2821.3"/>
<path class="l" d="M1940.3 2821.3H1942.6M1952 2821.3H1953.3M2026.7 2788.3H1956.3Q1953.3 2788.3 1953.3 2791.3V2851.3Q1953.3 2854.3 1956.3 2854.3H2045.7M1953.3 2810.3H2023.7M1953.3 2832.3H2084.7"/>

<path class="r" d="M1578.3 2576.7L1616 225"/>
<path class="r" d="M1858.3 2811.7L1797.5 265"/>
<path class="r" d="M1205.7 1314L733 628"/>
<path class="r" d="M1841.7 2702.3L656 1124"/>
<path class="r" d="M2413 1158.3L1421.7 2641.7"/>
<path class="r" d="M2452.5 930L1835 2725"/>
<path class="r" d="M2597.6 1083L1867.3 2747.3"/>
<path class="r" d="M1695.4 1738.3L1918.3 2681"/>
</g>
</svg>
